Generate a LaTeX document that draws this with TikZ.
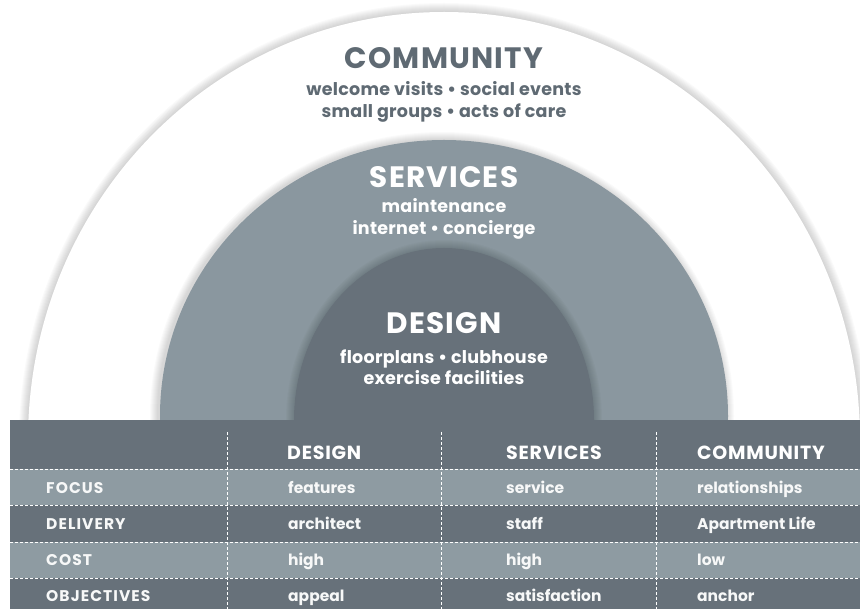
\documentclass[tikz,border=0pt]{standalone}
\usepackage{fontspec}
\setmainfont{Poppins}
\usetikzlibrary{positioning}

\definecolor{slate}{HTML}{67717A}
\definecolor{steel}{HTML}{8A979F}
\definecolor{rowlight}{HTML}{8E9BA2}
\definecolor{ink}{HTML}{5F6A73}

\tikzset{
  halo/.style={black, opacity=0.018},
  bigtitle/.style={font=\fontsize{29.5}{30}\selectfont\bfseries\addfontfeatures{LetterSpace=4}, inner sep=0pt},
  blurb/.style={font=\fontsize{17.5}{21.5}\selectfont\bfseries\addfontfeatures{LetterSpace=1.5}, align=center, inner sep=0pt},
  colhead/.style={font=\fontsize{19}{20}\selectfont\bfseries\addfontfeatures{LetterSpace=4}, text=white, anchor=west, inner sep=0pt, text height=14pt, text depth=4pt, yshift=-2.5pt},
  cell/.style={font=\fontsize{15.5}{16}\selectfont\bfseries, text=white!95!slate, anchor=west, inner sep=0pt, text height=11.5pt, text depth=3.5pt, yshift=-2.5pt},
  rowlabel/.style={cell, font=\fontsize{15.5}{16}\selectfont\bfseries\addfontfeatures{LetterSpace=7}},
  rule/.style={white, line width=0.6pt, dash pattern=on 3pt off 2pt}
}

\begin{document}
\begin{tikzpicture}[x=1pt, y=-1pt]
	\def \cx {444}
	\useasboundingbox (0,0) rectangle (860,609);

	% rings, outside in
	\foreach \k in {1,...,9}
		\fill[halo] (\cx,440) ellipse ({416+\k} and {428+\k});
	\fill[white] (\cx,440) ellipse (416 and 428);
	\foreach \k in {1,...,8}
		\fill[halo] (\cx-2,416) ellipse ({284+\k} and {276+\k});
	\fill[steel] (\cx,416) ellipse (284 and 276);
	\foreach \k in {1,...,8}
		\fill[halo] (\cx,420) ellipse ({150+\k} and {172+\k});
	\fill[slate] (\cx,420) ellipse (150 and 172);

	\node[bigtitle, text=ink] (community) at (\cx,58) {COMMUNITY};
	\node[blurb, text=ink] (communitytxt) at (\cx,102)
		{welcome visits • social events\\small groups • acts of care};

	\node[bigtitle, text=white] (services) at (\cx,177) {SERVICES};
	\node[blurb, text=white] (servicestxt) at (\cx,219)
		{maintenance\\internet • concierge};

	\node[bigtitle, text=white] (design) at (\cx,323) {DESIGN};
	\node[blurb, text=white] (designtxt) at (\cx,367)
		{floorplans • clubhouse\\exercise facilities};

	% table
	\fill[slate] (10,420) rectangle (860,609);
	\fill[rowlight] (10,469) rectangle (860,505);
	\fill[rowlight] (10,542) rectangle (860,578);
	\foreach \y in {469,505,542,578}
		\draw[rule] (10,\y) -- (860,\y);
	\foreach \x in {227,441,656}
		\draw[rule] (\x,432) -- (\x,609);

	\node[colhead] (hdesign)    at (287,452) {DESIGN};
	\node[colhead] (hservices)  at (506,452) {SERVICES};
	\node[colhead] (hcommunity) at (697,452) {COMMUNITY};

	\node[rowlabel] (focus)      at (46,487) {FOCUS};
	\node[rowlabel] (delivery)   at (46,523) {DELIVERY};
	\node[rowlabel] (cost)       at (46,559) {COST};
	\node[rowlabel] (objectives) at (46,595) {OBJECTIVES};

	\node[cell] (focusd)  at (288,487) {features};
	\node[cell] (focuss)  at (506,487) {service};
	\node[cell] (focusc)  at (697,487) {relationships};
	\node[cell] (deliveryd) at (288,523) {architect};
	\node[cell] (deliverys) at (506,523) {staff};
	\node[cell] (deliveryc) at (697,523) {Apartment Life};
	\node[cell] (costd) at (288,559) {high};
	\node[cell] (costs) at (506,559) {high};
	\node[cell] (costc) at (697,559) {low};
	\node[cell] (objectivesd) at (288,595) {appeal};
	\node[cell] (objectivess) at (506,595) {satisfaction};
	\node[cell] (objectivesc) at (697,595) {anchor};
\end{tikzpicture}
\end{document}
